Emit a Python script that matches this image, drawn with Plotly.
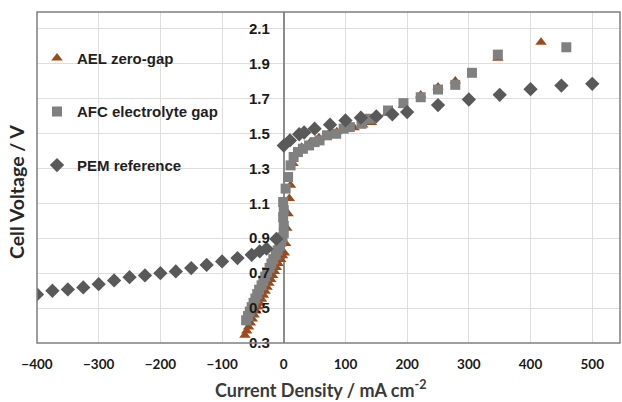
import plotly.graph_objects as go

# ---------------- data ----------------
ael_x = [-63, -60, -57, -54, -51, -48, -45, -42, -39, -36, -33, -30, -27, -24, -21, -18, -15, -12, -9, -5, -2, 1,
         3, 5, 7, 9, 11, 15, 20, 29, 42, 57, 72, 86, 100, 114, 128, 142, 168, 194, 222, 250, 278, 347, 417]
ael_v = [0.345, 0.368, 0.392, 0.414, 0.437, 0.46, 0.483, 0.506, 0.528, 0.551, 0.574, 0.596, 0.619, 0.642, 0.664,
         0.687, 0.71, 0.732, 0.755, 0.778, 0.80, 0.815,
         0.87, 0.957, 1.04, 1.127, 1.203, 1.327, 1.38, 1.42, 1.445, 1.475, 1.495, 1.51, 1.522, 1.532, 1.548, 1.562,
         1.615, 1.66, 1.72, 1.765, 1.80, 1.93, 2.022]

afc_x = [-61, -58, -55, -52, -49, -46, -43, -40, -36, -33, -30, -27, -23, -20, -17, -13, -10, -7, -4, -2, 0,
         0, -1, 0, -1, 3, 7, 11, 16, 23, 31, 41, 50, 58, 70, 85, 97, 107, 126, 139, 169, 194, 222, 250, 278, 305,
         347, 458]
afc_v = [0.43, 0.455, 0.48, 0.505, 0.53, 0.555, 0.58, 0.605, 0.63, 0.655, 0.68, 0.705, 0.73, 0.755, 0.78, 0.805,
         0.83, 0.855, 0.88, 0.905, 0.93,
         0.97, 1.02, 1.06, 1.107, 1.184, 1.25, 1.317, 1.365, 1.393, 1.412, 1.431, 1.45, 1.46, 1.489, 1.498, 1.527,
         1.536, 1.555, 1.584, 1.631, 1.673, 1.707, 1.751, 1.778, 1.847, 1.951, 1.993]

pem_x = [-400, -375, -350, -325, -300, -275, -250, -225, -200, -175, -150, -125, -100, -75, -52, -39, -28, -12,
         0, 10, 25, 33, 50, 75, 100, 125, 150, 176, 200, 250, 300, 350, 400, 450, 500]
pem_v = [0.578, 0.599, 0.607, 0.618, 0.637, 0.658, 0.677, 0.687, 0.70, 0.71, 0.729, 0.747, 0.767, 0.786, 0.805,
         0.824, 0.84, 0.896,
         1.43, 1.46, 1.495, 1.505, 1.527, 1.55, 1.574, 1.59, 1.597, 1.609, 1.622, 1.662, 1.694, 1.721, 1.753,
         1.774, 1.784]

x_ticks = [-400, -300, -200, -100, 0, 100, 200, 300, 400, 500]
y_ticks = [0.3, 0.5, 0.7, 0.9, 1.1, 1.3, 1.5, 1.7, 1.9, 2.1]
x_range = [-400, 545]
y_range = [0.3, 2.195]

names = ["AEL zero-gap", "AFC electrolyte gap", "PEM reference"]
x_title = "Current Density / mA cm<sup>-2</sup>"
y_title = "Cell Voltage / V"

# ---------------- figure ----------------
fig = go.Figure()
fig.add_trace(go.Scatter(x=ael_x, y=ael_v, mode="markers", name=names[0], legendgroup="a",
                         marker=dict(symbol="triangle-up", size=10, color="#9C4A1B")))
fig.add_trace(go.Scatter(x=afc_x, y=afc_v, mode="markers", name=names[1], legendgroup="b",
                         marker=dict(symbol="square", size=10, color="#808080")))
fig.add_trace(go.Scatter(x=pem_x, y=pem_v, mode="markers", name=names[2], legendgroup="c",
                         marker=dict(symbol="diamond", size=11, color="#595959")))

ypos = (0 - x_range[0]) / (x_range[1] - x_range[0])

fig.update_layout(
    width=622, height=402,
    margin=dict(l=37, r=2, t=12, b=59, autoexpand=False),
    paper_bgcolor="white", plot_bgcolor="white",
    showlegend=True,
    legend=dict(x=0.0, y=0.91, xanchor="left", yanchor="top",
                bgcolor="rgba(0,0,0,0)", tracegroupgap=31,
                font=dict(family="Liberation Sans, Arial", size=15, color="#1f1f1f", weight="bold")),
    xaxis=dict(range=x_range, tickvals=x_ticks, ticks="", showgrid=True, gridcolor="#DEDEDE", gridwidth=1,
               zeroline=True, zerolinecolor="#8C8C8C", zerolinewidth=1.5,
               showline=False, automargin=False, ticklabelstandoff=11,
               tickfont=dict(family="Lato, Calibri", size=13.5, color="#1a1a1a", weight="bold")),
    yaxis=dict(range=y_range, tickvals=y_ticks, ticktext=[f"{v:.1f}" for v in y_ticks], ticks="",
               anchor="free", position=ypos, showline=False, automargin=False,
               showgrid=True, gridcolor="#DEDEDE", gridwidth=1, zeroline=False,
               ticklabelstandoff=14,
               tickfont=dict(family="Liberation Sans, Arial", size=15, color="#1a1a1a", weight="bold")),
)

# plot frame
fig.add_shape(type="rect", xref="paper", yref="paper", x0=0, y0=0, x1=1, y1=1,
              line=dict(color="#7F7F7F", width=1.5), fillcolor="rgba(0,0,0,0)", layer="above")

# axis titles
fig.add_annotation(text=y_title, xref="paper", yref="paper", x=-0.035, y=0.455,
                   textangle=-90, showarrow=False, xanchor="center", yanchor="middle",
                   font=dict(family="Lato, Calibri", size=19.5, color="#262626", weight="bold"))
fig.add_annotation(text=x_title, xref="paper", yref="paper", x=0.487, y=-0.14,
                   showarrow=False, xanchor="center", yanchor="middle",
                   font=dict(family="Lato, Calibri", size=18, color="#3a3a3a", weight="bold"))

fig.write_html("out.html", config={"displayModeBar": False},
               post_script="document.body.style.margin='0';")
